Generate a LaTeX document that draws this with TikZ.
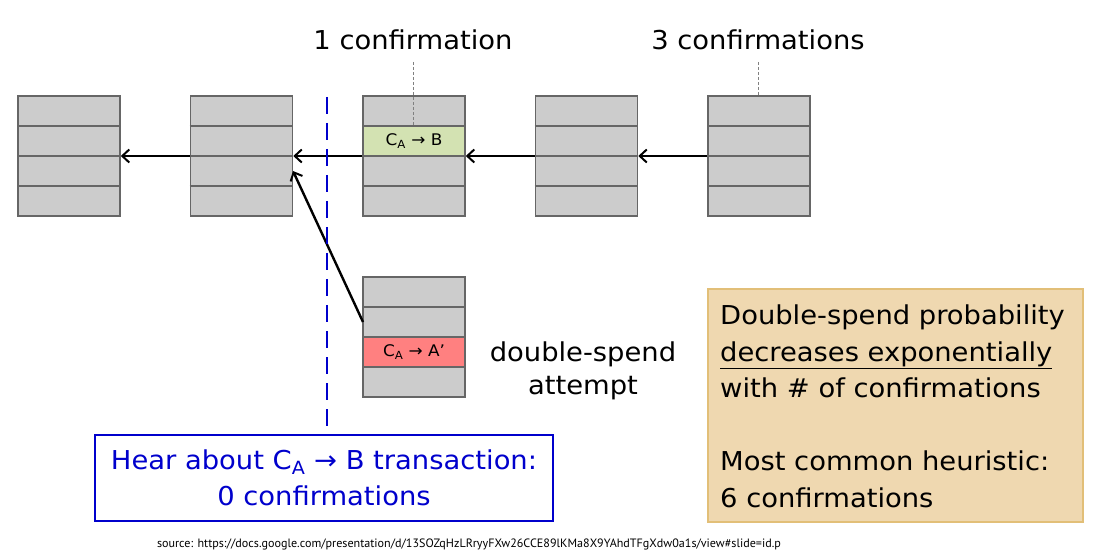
\documentclass[tikz,border=0pt]{standalone}
\usepackage{fontspec}
\setmainfont{DejaVu Sans Condensed}[FakeStretch=1.17]
\newfontfamily\srcfont{PT Sans}
\usetikzlibrary{arrows.meta}
\definecolor{blkgray}{HTML}{CCCCCC}
\definecolor{blkline}{HTML}{666666}
\definecolor{txgreen}{HTML}{D3E2B2}
\definecolor{txred}{HTML}{FF8080}
\definecolor{tanfill}{HTML}{EFD8B0}
\definecolor{tanline}{HTML}{E2BF78}
\definecolor{myblue}{HTML}{0000CC}
\begin{document}
\begin{tikzpicture}[x=1pt,y=-1pt,
  blk/.style={draw=blkline,line width=1.6pt,fill=blkgray,minimum width=102pt,minimum height=120pt,inner sep=0pt},
  txrow/.style={draw=blkline,line width=1.6pt,minimum width=102pt,minimum height=30pt,inner sep=0pt,font=\fontsize{16}{18}\selectfont},
  arr/.style={line width=2.4pt,-{Straight Barb[length=7pt,width=13pt,line width=2pt]}},
  lbl/.style={font=\fontsize{26}{30}\selectfont,inner sep=0pt},
  guide/.style={draw=gray,dashed,line width=0.8pt,dash pattern=on 3pt off 2pt}]
\useasboundingbox (0,0) rectangle (1100,553);
% main chain blocks
\node[blk] (b1) at (69,156) {};
\node[blk] (b2) at (241.5,156) {};
\node[blk] (b3) at (414,156) {};
\node[blk] (b4) at (586.5,156) {};
\node[blk] (b5) at (759,156) {};
\foreach \b in {b1,b2,b3,b4,b5}{
  \draw[blkline,line width=1.6pt] (\b.west |- 0,126) -- (\b.east |- 0,126);
  \draw[blkline,line width=1.6pt] (\b.west |- 0,156) -- (\b.east |- 0,156);
  \draw[blkline,line width=1.6pt] (\b.west |- 0,186) -- (\b.east |- 0,186);
}
\node[txrow,fill=txgreen] (tx1) at (414,141) {C\textsubscript{A} → B};
% fork block
\node[blk] (f1) at (414,337) {};
\draw[blkline,line width=1.6pt] (f1.west |- 0,307) -- (f1.east |- 0,307);
\draw[blkline,line width=1.6pt] (f1.west |- 0,367) -- (f1.east |- 0,367);
\node[txrow,fill=txred] (tx2) at (414,352) {C\textsubscript{A} → A’};
\coordinate (fstart) at (363,322);
\coordinate (ftgt) at (293,171);
% arrows
\draw[arr] (b2.west) -- (b1.east);
\draw[arr] (b3.west) -- (b2.east);
\draw[arr] (b4.west) -- (b3.east);
\draw[arr] (b5.west) -- (b4.east);
\draw[arr] (fstart) -- (ftgt);
% labels on top
\node[lbl] (c1) at (413,40) {1 confirmation};
\node[lbl] (c3) at (758,40) {3 confirmations};
\coordinate (g1) at (413,126);
\coordinate (g3) at (758,96);
\draw[guide] (413,62) -- (g1);
\draw[guide] (758,62) -- (g3);
% double spend label
\node[lbl,align=center,font=\fontsize{26}{33}\selectfont] (ds) at (583,371) {double-spend\\attempt};
% blue dashed line
\coordinate (dtop) at (327,97);
\coordinate (dbot) at (327,426);
\draw[myblue,line width=2.8pt,dash pattern=on 17pt off 9pt] (dtop) -- (dbot);
% blue box
\node[draw=myblue,line width=1.3pt,minimum width=458pt,minimum height=86pt,inner sep=0pt,text=myblue,align=center,font=\fontsize{26}{35.5}\selectfont] (hear) at (324,478) {Hear about C\textsubscript{A} → B transaction:\\0 confirmations};
% tan box
\node[draw=tanline,fill=tanfill,line width=1.6pt,minimum width=375pt,minimum height=233pt,inner sep=0pt] (tan) at (895.5,405.5) {};
\node[anchor=north west,align=left,inner sep=0pt,font=\fontsize{26}{36.5}\selectfont] (tantext) at (720,305) {Double-spend probability\\\underline{decreases exponentially}\\with \# of confirmations\\[36.5pt]Most common heuristic:\\6 confirmations};
% source
\node[font=\srcfont\fontsize{12.1}{13}\selectfont,inner sep=0pt] (src) at (469,544) {source: https://docs.google.com/presentation/d/13SOZqHzLRryyFXw26CCE89lKMa8X9YAhdTFgXdw0a1s/view\#slide=id.p};
\end{tikzpicture}
\end{document}
